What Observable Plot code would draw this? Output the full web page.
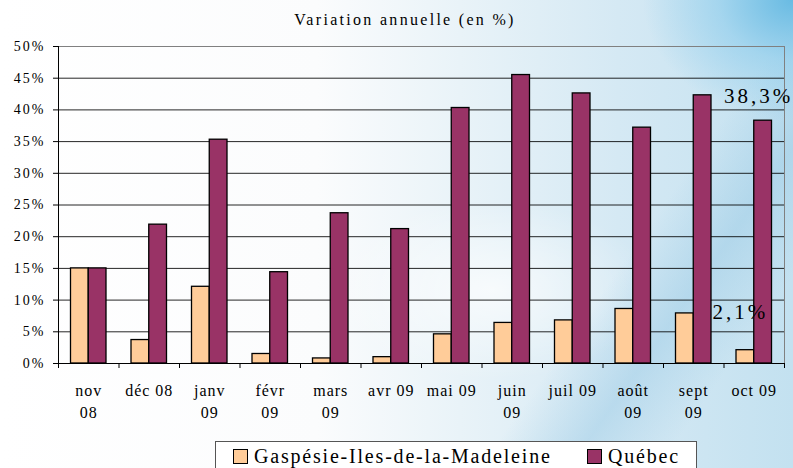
<!DOCTYPE html>
<html>
<head>
<meta charset="utf-8">
<script src="https://cdn.jsdelivr.net/npm/d3@7"></script>
<script src="https://cdn.jsdelivr.net/npm/@observablehq/plot@0.6"></script>
<style>
  html, body { margin: 0; padding: 0; }
  body {
    width: 793px; height: 468px; overflow: hidden; position: relative;
    font-family: "Liberation Serif", "DejaVu Serif", serif;
    background:
      radial-gradient(150px 120px at 100% 0%, rgba(100,185,226,0.95), rgba(140,204,236,0.6) 50%, rgba(255,255,255,0) 100%),
      linear-gradient(125deg, rgba(255,255,255,0) 72%, rgba(150,200,228,0.45) 80%, rgba(255,255,255,0) 88%),
      radial-gradient(160px 90px at 62% 62%, rgba(255,255,255,0.7), rgba(255,255,255,0) 100%),
      linear-gradient(90deg, #ffffff 0%, #fbfcfd 40%, #e9f3f8 58%, #d5e9f4 78%, #c3e1f0 100%);
  }
  #title {
    position: absolute; top: 11px; left: 0; width: 810px; text-align: center;
    font-size: 16px; letter-spacing: 2.3px; color: #000;
  }
  #chart { position: absolute; top: 0; left: 0; }
  #legend {
    position: absolute; left: 215px; top: 441px; width: 482px; height: 40px;
    border: 1px solid #555; background: #fff; box-sizing: border-box;
    font-size: 20px; line-height: 20px; letter-spacing: 1.8px; color: #000;
  }
  .item { position: absolute; top: 4px; display: flex; align-items: center; white-space: nowrap; }
  .sw { width: 15px; height: 15px; border: 1.5px solid #000; display: inline-block; margin-right: 6px; box-sizing: border-box; }
  [aria-label="y-axis tick label"] text { font-size: 14px; letter-spacing: 2px; }
</style>
</head>
<body>
<div id="title">Variation annuelle (en %)</div>
<div id="chart"></div>
<div id="legend">
  <div class="item" style="left:17px"><span class="sw" style="background:#FFCC99"></span>Gaspésie-Iles-de-la-Madeleine</div>
  <div class="item" style="left:371px"><span class="sw" style="background:#993366"></span>Québec</div>
</div>
<script>
const months = ["nov\n08", "déc 08", "janv\n09", "févr\n09", "mars\n09", "avr 09", "mai 09", "juin\n09", "juil 09", "août\n09", "sept\n09", "oct 09"];
const gaspesie = [15.0, 3.7, 12.1, 1.5, 0.8, 1.0, 4.6, 6.4, 6.8, 8.6, 7.9, 2.1];
const quebec = [15.0, 21.9, 35.3, 14.4, 23.7, 21.2, 40.3, 45.5, 42.6, 37.2, 42.3, 38.3];
const yTicks = [0, 5, 10, 15, 20, 25, 30, 35, 40, 45, 50];

const idx = months.map((m, i) => i);
const gData = idx.map(i => ({i, v: gaspesie[i]}));
const qData = idx.map(i => ({i, v: quebec[i]}));
const fmt = v => v.toFixed(1).replace(".", ",") + "%";
const last = months.length - 1;

const plot = Plot.plot({
  width: 793,
  height: 440,
  marginTop: 46,
  marginBottom: 77,
  marginLeft: 58,
  marginRight: 9,
  style: {background: "transparent", fontFamily: "'Liberation Serif', 'DejaVu Serif', serif", fontSize: "16px", color: "#000"},
  x: {type: "linear", domain: [0, months.length]},
  y: {domain: [0, 50]},
  marks: [
    Plot.gridY(yTicks.filter(t => t > 0 && t < 50), {stroke: "#000", strokeOpacity: 0.85}),
    Plot.ruleY([50], {stroke: "#808080"}),
    Plot.ruleX([months.length], {stroke: "#808080"}),
    Plot.rectY(gData, {x1: "i", x2: d => d.i + 1, y1: 0, y2: "v", fill: "#FFCC99", stroke: "#000", strokeWidth: 1.3, insetLeft: 12.5, insetRight: 30.25}),
    Plot.rectY(qData, {x1: "i", x2: d => d.i + 1, y1: 0, y2: "v", fill: "#993366", stroke: "#000", strokeWidth: 1.3, insetLeft: 30.25, insetRight: 12.5}),
    Plot.ruleX([0], {stroke: "#000"}),
    Plot.ruleY([0], {stroke: "#000"}),
    Plot.axisY({ticks: yTicks, tickFormat: d => d + "%", tickSize: 5, tickPadding: 8, label: null, stroke: "#000"}),
    Plot.axisX({ticks: d3.range(0, months.length + 1), tickFormat: () => "", tickSize: 5, label: null, stroke: "#000"}),
    Plot.text(idx, {x: i => i + 0.5, y: 0, text: i => months[i], lineAnchor: "top", dy: 17, lineHeight: 1.375, fontSize: 16, fill: "#000"}),
    Plot.text([qData[last]], {x: "i", y: "v", text: d => fmt(d.v), textAnchor: "start", lineAnchor: "middle", dy: -24, fontSize: 21, fill: "#000"}),
    Plot.text([gData[last]], {x: "i", y: "v", text: d => fmt(d.v), textAnchor: "start", lineAnchor: "middle", dx: -11.5, dy: -38, fontSize: 21, fill: "#000"})
  ]
});
document.getElementById("chart").appendChild(plot);
// letter spacing for the three text marks (in order: month labels, two data labels)
const textGroups = d3.select(plot).selectAll('g[aria-label="text"]').nodes();
const spacings = ["1px", "3px", "3px"];
textGroups.forEach((g, k) => d3.select(g).selectAll("text").style("letter-spacing", spacings[k] || "1px"));
</script>
</body>
</html>
